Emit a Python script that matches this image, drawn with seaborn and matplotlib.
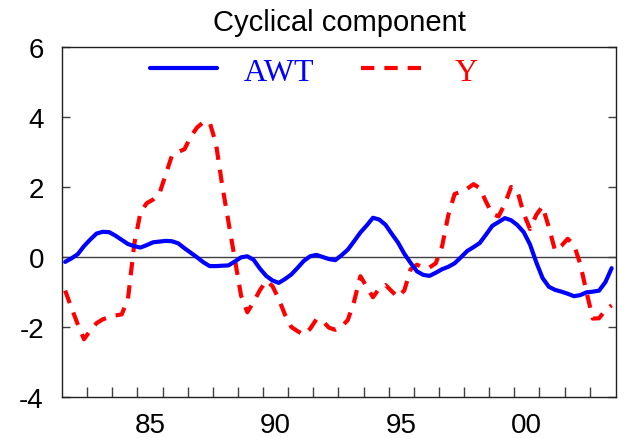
import numpy as np
import pandas as pd
import matplotlib
matplotlib.use("Agg")
import matplotlib.pyplot as plt
import seaborn as sns

# quarterly cyclical components, 1982Q1 - 2003Q4
awt = [-0.14, -0.04, 0.08, 0.31, 0.50, 0.67, 0.72, 0.71,
       0.61, 0.49, 0.37, 0.31, 0.27, 0.34, 0.42, 0.44,
       0.46, 0.45, 0.39, 0.25, 0.12, -0.01, -0.15, -0.26,
       -0.26, -0.25, -0.24, -0.13, -0.01, 0.02, -0.08, -0.33,
       -0.54, -0.67, -0.74, -0.63, -0.50, -0.31, -0.11, 0.02,
       0.06, 0.00, -0.06, -0.09, 0.05, 0.21, 0.45, 0.70,
       0.90, 1.12, 1.07, 0.92, 0.66, 0.41, 0.09, -0.17,
       -0.41, -0.51, -0.54, -0.45, -0.35, -0.28, -0.18, -0.01,
       0.17, 0.28, 0.40, 0.64, 0.89, 1.00, 1.11, 1.05,
       0.91, 0.71, 0.36, -0.15, -0.60, -0.85, -0.94, -0.99,
       -1.05, -1.12, -1.09, -1.01, -0.99, -0.96, -0.72, -0.32]

y = [-0.96, -1.45, -1.92, -2.35, -2.10, -1.89, -1.78, -1.72,
     -1.67, -1.64, -1.20, 0.37, 1.28, 1.54, 1.64, 1.81,
     2.35, 2.90, 3.00, 3.08, 3.44, 3.70, 3.85, 3.85,
     3.25, 2.05, 1.00, -0.05, -1.10, -1.58, -1.28, -0.95,
     -0.68, -0.83, -1.20, -1.65, -2.00, -2.12, -2.22, -2.05,
     -1.78, -1.83, -2.02, -2.08, -1.99, -1.80, -1.27, -0.55,
     -0.85, -1.15, -0.90, -0.80, -0.98, -1.15, -0.95, -0.35,
     -0.22, -0.30, -0.30, -0.18, 0.30, 1.20, 1.80, 1.86,
     1.95, 2.08, 1.97, 1.58, 1.23, 1.16, 1.52, 2.00,
     1.88, 1.24, 0.80, 1.20, 1.45, 0.85, 0.18, 0.32,
     0.52, 0.35, -0.20, -1.00, -1.76, -1.75, -1.52, -1.38]

year_labels = ["85", "90", "95", "00"]
label_years = [1985, 1990, 1995, 2000]

# quarter midpoints
t = 1982 + (np.arange(len(awt)) + 0.5) / 4
df = pd.DataFrame({"t": t, "AWT": awt, "Y": y})

sns.set_style("ticks")
plt.rcParams["font.family"] = ["Liberation Sans", "DejaVu Sans"]
plt.rcParams["text.color"] = "black"
plt.rcParams["xtick.color"] = "black"
plt.rcParams["ytick.color"] = "black"

fig = plt.figure(figsize=(6.29, 4.39), dpi=100)
ax = fig.add_axes([0.0986, 0.0934, 0.8808, 0.7973])

ax.axhline(0, color="#404040", lw=1.0, zorder=1)
sns.lineplot(data=df, x="t", y="AWT", ax=ax, color="#0000ff", lw=3.0,
             label="AWT", zorder=3)
sns.lineplot(data=df, x="t", y="Y", ax=ax, color="#ff0000", lw=3.0,
             label="Y", zorder=2, dashes=False)
ax.lines[-1].set_dashes((3.2, 2.4))

ax.set_xlim(1982, 2004.05)
ax.set_ylim(-4, 6)
ax.set_xlabel("")
ax.set_ylabel("")

ax.set_yticks([-4, -2, 0, 2, 4, 6])
ax.set_yticklabels(["-4", "-2", "0", "2", "4", "6"], fontsize=20)
ax.tick_params(axis="y", direction="in", length=6, width=1, right=True,
               pad=13, color="#404040")

ax.set_xticks([yr + 0.5 for yr in label_years])
ax.set_xticklabels(year_labels, fontsize=20)
ax.set_xticks(list(range(1983, 2004)), minor=True)
ax.tick_params(axis="x", which="major", length=0, pad=11)
ax.tick_params(axis="x", which="minor", direction="in", length=7, width=1,
               color="#404040")

for s in ax.spines.values():
    s.set_color("#202020")
    s.set_linewidth(1.0)

ax.set_title("Cyclical component", fontsize=21, pad=12, color="black")

leg = ax.legend(loc="center", bbox_to_anchor=(0.455, 0.929), ncol=2,
                frameon=False, handlelength=2.1, handletextpad=0.85,
                columnspacing=1.45,
                prop={"family": "Liberation Serif", "size": 23})
for txt, c in zip(leg.get_texts(), ["#0000ff", "#ff0000"]):
    txt.set_color(c)

fig.savefig("out.png", dpi=100)
